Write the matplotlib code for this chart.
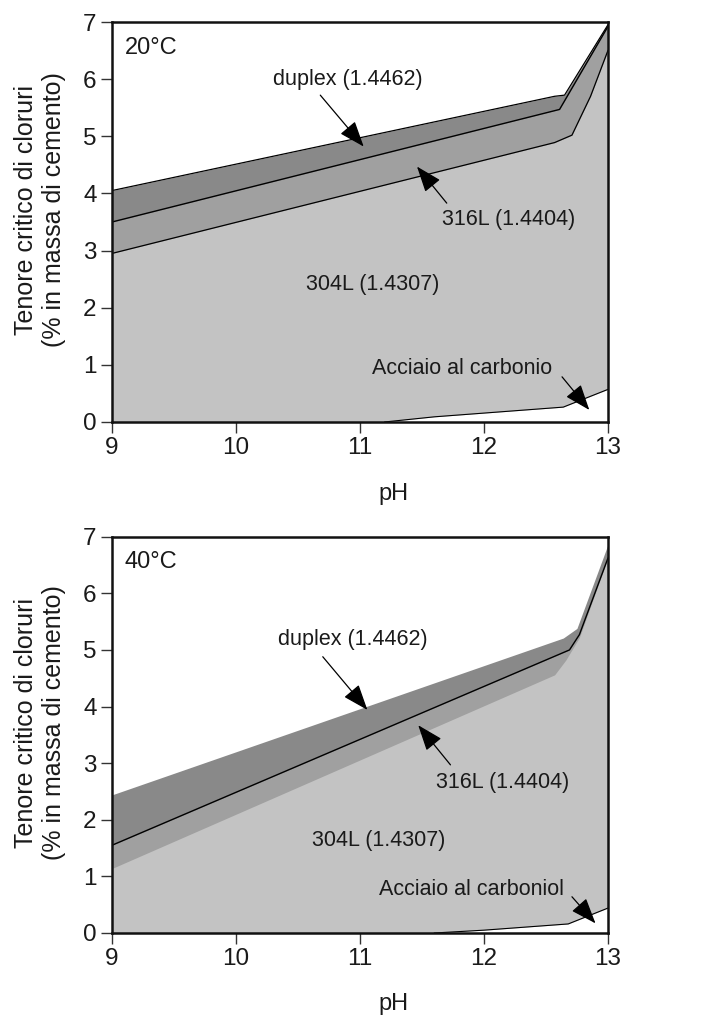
import numpy as np
import matplotlib
matplotlib.use('Agg')
import matplotlib.pyplot as plt

plt.rcParams['font.family'] = ['Liberation Sans', 'DejaVu Sans']
plt.rcParams['font.size'] = 15.5

# 20 C boundaries (pH, chloride %)
ph_dup20 = [9, 12.57, 12.65, 13]
dup20 = [4.05, 5.70, 5.72, 6.95]
ph_mid20 = [9, 12.61, 13]
mid20 = [3.50, 5.47, 6.92]
ph_low20 = [9, 12.57, 12.71, 12.86, 13]
low20 = [2.95, 4.89, 5.02, 5.70, 6.50]
ph_cs20 = [11.2, 11.6, 12.64, 13]
cs20 = [0, 0.09, 0.26, 0.57]

# 40 C boundaries
ph_dup40 = [9, 12.64, 12.75, 13]
dup40 = [2.44, 5.21, 5.38, 6.86]
ph_mid40 = [9, 12.69, 12.77, 13]
mid40 = [1.55, 5.0, 5.27, 6.62]
ph_low40 = [9, 12.57, 12.66, 12.77, 13]
low40 = [1.14, 4.56, 4.82, 5.22, 6.62]
ph_cs40 = [11.6, 12.0, 12.68, 13]
cs40 = [0, 0.05, 0.16, 0.44]

xticks = [9, 10, 11, 12, 13]
yticks = [0, 1, 2, 3, 4, 5, 6, 7]

c_dup = '#898989'
c_316 = '#a0a0a0'
c_304 = '#c3c3c3'
txt = '#1a1a1a'

fig = plt.figure(figsize=(7.25, 10.19), dpi=100)
ax1 = fig.add_axes([0.1545, 0.5859, 0.684, 0.3925])
ax2 = fig.add_axes([0.1545, 0.0844, 0.684, 0.3889])

def panel(ax, pd, d, pm, m, pl, l, pc, c, low_line):
    ax.fill_between(pd, d, 0, color=c_dup, lw=0)
    ax.fill_between(pm, m, 0, color=c_316, lw=0)
    ax.fill_between(pl, l, 0, color=c_304, lw=0)
    ax.fill_between(pc, c, 0, color='white', lw=0)
    if low_line:
        ax.plot(pd, d, color='k', lw=0.9)
        ax.plot(pl, l, color='k', lw=0.9)
    ax.plot(pm, m, color='k', lw=1.0)
    ax.plot(pc, c, color='k', lw=0.8)
    ax.set_xlim(9, 13)
    ax.set_ylim(0, 7)
    ax.set_xticks(xticks)
    ax.set_yticks(yticks)
    ax.tick_params(direction='out', length=8, width=1, colors='#333', labelcolor=txt,
                   pad=3, labelsize=17.5)
    for s in ax.spines.values():
        s.set_linewidth(1.8)
        s.set_color('#111')
    ax.set_xlabel('pH', color=txt, fontsize=17, va='top')
    ax.xaxis.set_label_coords(0.567, -0.152)
    ax.set_ylabel('Tenore critico di cloruri\n(% in massa di cemento)', color=txt,
                  fontsize=18, linespacing=1.25, va='center')
    ax.yaxis.set_label_coords(-0.145, 0.53)

arrow = dict(arrowstyle='-|>,head_length=0.8,head_width=0.3', color='k', lw=0.9,
             mutation_scale=20, shrinkA=0, shrinkB=0)

panel(ax1, ph_dup20, dup20, ph_mid20, mid20, ph_low20, low20, ph_cs20, cs20, True)
ax1.text(9.1, 6.55, '20°C', color=txt, va='center', fontsize=17)
ax1.text(10.9, 6.0, 'duplex (1.4462)', ha='center', va='center', color=txt)
ax1.annotate('', xy=(11.03, 4.82), xytext=(10.68, 5.72), arrowprops=arrow)
ax1.annotate('', xy=(11.46, 4.47), xytext=(11.70, 3.83), arrowprops=arrow)
ax1.text(12.2, 3.54, '316L (1.4404)', ha='center', va='center', color=txt)
ax1.text(11.1, 2.4, '304L (1.4307)', ha='center', va='center', color=txt)
ax1.text(11.82, 0.94, 'Acciaio al carbonio', ha='center', va='center', color=txt)
ax1.annotate('', xy=(12.85, 0.21), xytext=(12.63, 0.79), arrowprops=arrow)

panel(ax2, ph_dup40, dup40, ph_mid40, mid40, ph_low40, low40, ph_cs40, cs40, False)
ax2.text(9.1, 6.55, '40°C', color=txt, va='center', fontsize=17)
ax2.text(10.94, 5.18, 'duplex (1.4462)', ha='center', va='center', color=txt)
ax2.annotate('', xy=(11.06, 3.94), xytext=(10.70, 4.88), arrowprops=arrow)
ax2.annotate('', xy=(11.47, 3.67), xytext=(11.73, 2.97), arrowprops=arrow)
ax2.text(12.15, 2.65, '316L (1.4404)', ha='center', va='center', color=txt)
ax2.text(11.15, 1.64, '304L (1.4307)', ha='center', va='center', color=txt)
ax2.text(11.9, 0.76, 'Acciaio al carboniol', ha='center', va='center', color=txt)
ax2.annotate('', xy=(12.9, 0.17), xytext=(12.71, 0.64), arrowprops=arrow)

fig.savefig('out.png', dpi=100)
